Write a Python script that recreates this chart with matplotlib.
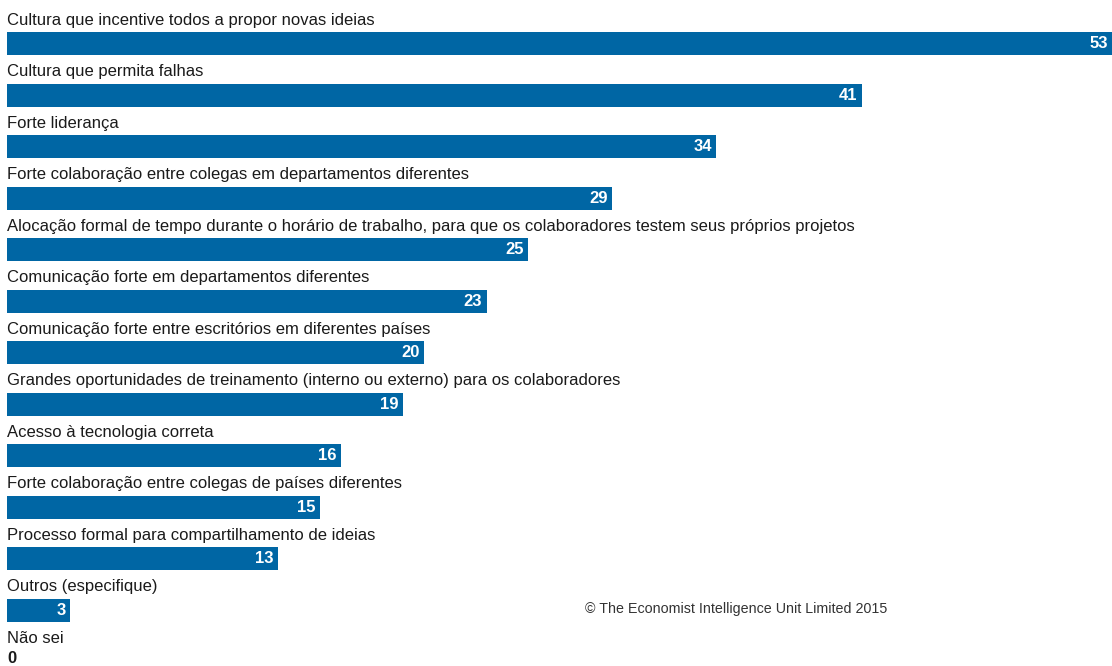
import matplotlib.pyplot as plt

# Survey answers (% of respondents)
categories = [
    "Cultura que incentive todos a propor novas ideias",
    "Cultura que permita falhas",
    "Forte liderança",
    "Forte colaboração entre colegas em departamentos diferentes",
    "Alocação formal de tempo durante o horário de trabalho, para que os colaboradores testem seus próprios projetos",
    "Comunicação forte em departamentos diferentes",
    "Comunicação forte entre escritórios em diferentes países",
    "Grandes oportunidades de treinamento (interno ou externo) para os colaboradores",
    "Acesso à tecnologia correta",
    "Forte colaboração entre colegas de países diferentes",
    "Processo formal para compartilhamento de ideias",
    "Outros (especifique)",
    "Não sei",
]
values = [53, 41, 34, 29, 25, 23, 20, 19, 16, 15, 13, 3, 0]

bar_color = "#0066a4"
text_color = "#1a1a1a"
font = ["Liberation Sans Narrow", "Liberation Sans", "DejaVu Sans"]

fig = plt.figure(figsize=(11.12, 6.66), dpi=100)
ax = fig.add_axes([7 / 1112, 0, 1105 / 1112, 1])

bar_h = 0.447
ypos = list(range(len(values)))
ax.barh(ypos, values, height=bar_h, color=bar_color)

for y, cat, v in zip(ypos, categories, values):
    ax.text(0, y - 0.36, cat, ha="left", va="baseline", fontsize=12,
            color=text_color, family=font)
    if v > 0:
        ax.text(v - 0.2, y, str(v), ha="right", va="center", fontsize=12,
                fontweight="bold", color="white", family=font)
    else:
        ax.text(0, y - 0.06, str(v), ha="left", va="center", fontsize=12,
                fontweight="bold", color=text_color, family=font)

ax.set_xlim(0, 53)
ax.set_ylim(12.087, -0.845)
ax.axis("off")

fig.text(585 / 1112, 1 - 609 / 666, "© The Economist Intelligence Unit Limited 2015",
         ha="left", va="center", fontsize=10.3, color="#333333", family=font)

fig.savefig("out.png", dpi=100)
